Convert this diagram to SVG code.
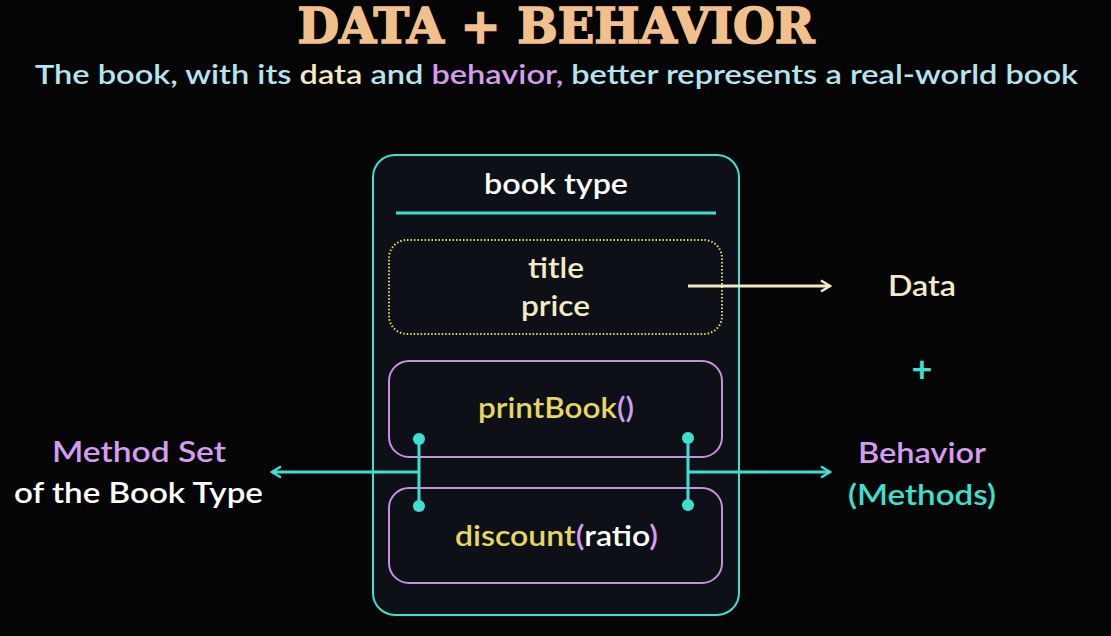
<svg xmlns="http://www.w3.org/2000/svg" width="1111" height="636" viewBox="0 0 1111 636">
<defs>
<style>
.t{font-family:Lato,"Noto Sans","Liberation Sans",sans-serif;font-weight:600;font-size:29px}
.title{font-family:"DejaVu Serif","Liberation Serif",serif;font-weight:bold;fill:#f2c08c;stroke:#f2c08c;stroke-width:1.6}
.blue{fill:#b4e4f0}.cream{fill:#f3ebc4}.purple{fill:#d49cf0}.white{fill:#ffffff}.yellow{fill:#e6d663}.teal{fill:#3de0d0}
.box{fill:none;stroke:#c98fe0;stroke-width:2}
.conn{stroke:#3de0d0;stroke-width:3;fill:none}
</style>
<marker id="arrT" viewBox="0 0 14 14" refX="12" refY="7" markerWidth="14" markerHeight="14" markerUnits="userSpaceOnUse" orient="auto"><path d="M3,1.5 L12,7 L3,12.5" fill="none" stroke="#3de0d0" stroke-width="2.5"/></marker>
<marker id="arrC" viewBox="0 0 14 14" refX="12" refY="7" markerWidth="14" markerHeight="14" markerUnits="userSpaceOnUse" orient="auto"><path d="M3,1.5 L12,7 L3,12.5" fill="none" stroke="#f3ebc4" stroke-width="2.5"/></marker>
</defs>
<rect width="1111" height="636" fill="#050505"/>
<text class="title" x="556" y="43" font-size="48" text-anchor="middle" textLength="517" lengthAdjust="spacingAndGlyphs">DATA + BEHAVIOR</text>
<text class="t" x="35" y="84" style="font-size:27px" textLength="1043" lengthAdjust="spacingAndGlyphs"><tspan class="blue">The book, with its </tspan><tspan class="cream">data</tspan><tspan class="blue"> and </tspan><tspan class="purple">behavior,</tspan><tspan class="blue"> better represents a real-world book</tspan></text>

<g id="book-type">
<rect x="373" y="155" width="366" height="460" rx="22" fill="#0d1117" stroke="#3de0d0" stroke-width="2"/>
<text class="t white" x="484" y="194" textLength="144" lengthAdjust="spacingAndGlyphs">book type</text>
<line x1="396" y1="213" x2="716" y2="213" stroke="#3de0d0" stroke-width="3"/>
</g>
<g id="data-fields">
<rect x="389" y="240" width="333" height="94" rx="18" fill="none" stroke="#e6d663" stroke-width="2" stroke-dasharray="1.5 2"/>
<text class="t cream" x="528" y="278" textLength="56" lengthAdjust="spacingAndGlyphs">title</text>
<text class="t cream" x="521" y="316" textLength="69" lengthAdjust="spacingAndGlyphs">price</text>
</g>
<g id="printBook">
<rect class="box" x="389" y="361" width="333" height="96" rx="20"/>
<text class="t yellow" x="478" y="418" textLength="156" lengthAdjust="spacingAndGlyphs">printBook<tspan class="purple">()</tspan></text>
</g>
<g id="discount">
<rect class="box" x="389" y="488" width="333" height="95" rx="20"/>
<text class="t yellow" x="455" y="546" textLength="203" lengthAdjust="spacingAndGlyphs">discount<tspan class="purple">(</tspan><tspan class="white">ratio</tspan><tspan class="purple">)</tspan></text>
</g>
<g id="label-data"><text class="t cream" x="888" y="296" textLength="68" lengthAdjust="spacingAndGlyphs">Data</text></g>
<g id="label-plus"><text class="t teal" x="922" y="382" text-anchor="middle" style="font-size:36px;font-weight:700">+</text></g>
<g id="label-behavior">
<text class="t purple" x="858" y="463" textLength="128" lengthAdjust="spacingAndGlyphs">Behavior</text>
<text class="t teal" x="848" y="505" textLength="148" lengthAdjust="spacingAndGlyphs">(Methods)</text>
</g>
<g id="label-methodset">
<text class="t purple" x="52" y="462" textLength="174" lengthAdjust="spacingAndGlyphs">Method Set</text>
<text class="t white" x="14" y="503" textLength="249" lengthAdjust="spacingAndGlyphs">of the Book Type</text>
</g>
<g id="connectors">
<line x1="688" y1="286" x2="830" y2="286" stroke="#f3ebc4" stroke-width="3" marker-end="url(#arrC)"/>
<line class="conn" x1="419" y1="439" x2="419" y2="506"/>
<circle cx="419" cy="439" r="6" fill="#3de0d0"/>
<circle cx="419" cy="506" r="6" fill="#3de0d0"/>
<line class="conn" x1="419" y1="472" x2="272" y2="472" marker-end="url(#arrT)"/>
<line class="conn" x1="688" y1="438" x2="688" y2="505"/>
<circle cx="688" cy="438" r="6" fill="#3de0d0"/>
<circle cx="688" cy="505" r="6" fill="#3de0d0"/>
<line class="conn" x1="688" y1="472" x2="830" y2="472" marker-end="url(#arrT)"/>
</g>
</svg>
